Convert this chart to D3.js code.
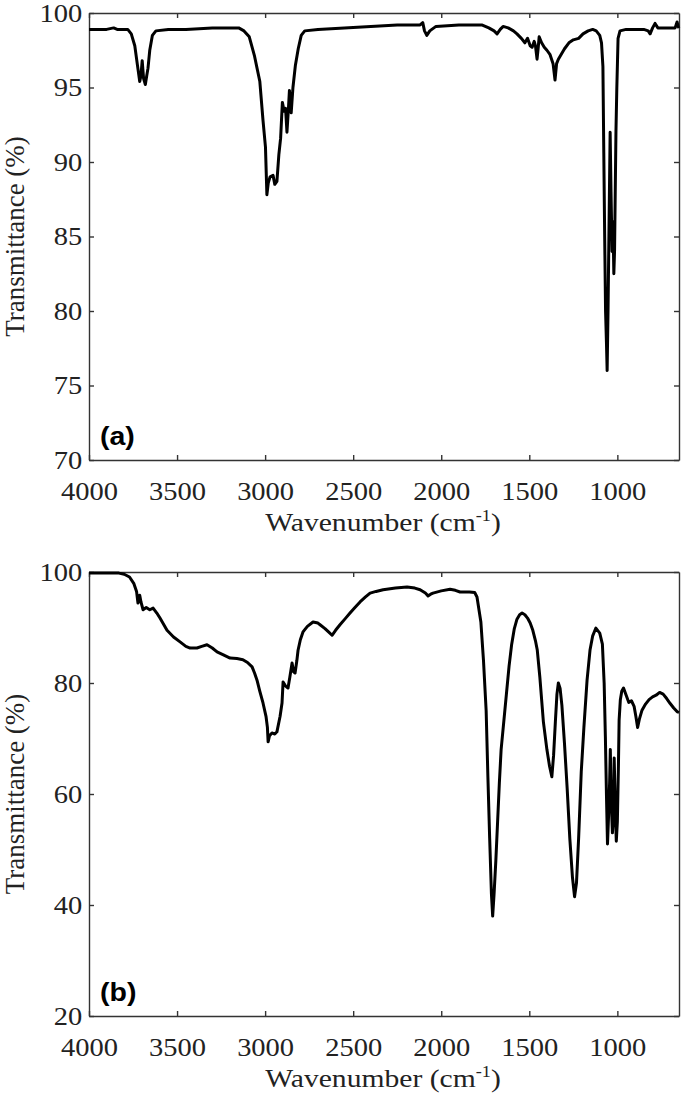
<!DOCTYPE html>
<html>
<head>
<meta charset="utf-8">
<script src="https://cdn.jsdelivr.net/npm/d3@7"></script>
<style>
  body { margin: 0; background: #fff; }
  svg { display: block; }
</style>
</head>
<body>
<svg id="chart"></svg>
<script>
// FTIR spectra, two stacked panels

var width = 685;
var height = 1098;

// panel (a)
var wnA = [4000, 3900, 3860, 3840, 3780, 3760, 3740, 3725, 3712, 3705, 3698, 3690, 3680, 3672, 3665, 3655, 3640, 3620, 3550, 3450,
  3300, 3150, 3120, 3090, 3060, 3030, 3012, 2998, 2990, 2982, 2972, 2955, 2945, 2933, 2922, 2912, 2902, 2892, 2884, 2876,
  2868, 2862, 2852, 2842, 2828, 2812, 2795, 2775, 2700, 2550, 2400, 2250, 2120, 2105, 2095, 2082, 2065, 2030, 1900, 1770,
  1730, 1700, 1683, 1665, 1649, 1620, 1590, 1570, 1545, 1525, 1510, 1495, 1484, 1472, 1465, 1456, 1450, 1444, 1430, 1415,
  1400, 1382, 1365, 1354, 1345, 1335, 1320, 1300, 1275, 1250, 1220, 1195, 1166, 1140, 1120, 1100, 1090, 1082, 1077, 1072,
  1067, 1062, 1058, 1053, 1047, 1041, 1036, 1030, 1025, 1020, 1016, 1012, 1008, 1003, 996, 985, 950, 900, 850, 825,
  814, 800, 786, 770, 700, 672, 661, 655, 650];
var tA = [98.9, 98.9, 99.0, 98.9, 98.9, 98.6, 97.8, 96.5, 95.4, 95.8, 96.8, 95.6, 95.2, 95.8, 96.3, 97.5, 98.5, 98.8, 98.9, 98.9,
  99.0, 99.0, 98.8, 98.4, 97.1, 95.4, 92.8, 91.0, 87.8, 88.6, 89.0, 89.1, 88.5, 88.7, 90.5, 91.6, 94.0, 93.4, 93.6, 92.0,
  93.5, 94.8, 93.3, 95.0, 96.5, 97.6, 98.5, 98.8, 98.9, 99.0, 99.1, 99.2, 99.2, 99.35, 98.8, 98.5, 98.8, 99.1, 99.2, 99.2,
  99.0, 98.8, 98.6, 98.9, 99.1, 99.0, 98.8, 98.6, 98.3, 98.0, 98.3, 97.8, 97.7, 98.1, 97.8, 96.9, 97.6, 98.4, 98.0, 97.7,
  97.5, 97.2, 96.6, 95.5, 96.6, 96.9, 97.2, 97.6, 98.0, 98.2, 98.3, 98.6, 98.8, 98.9, 98.8, 98.5, 98.0, 96.4, 90.6, 85,
  80, 77.9, 76.0, 80, 86, 92.0, 88, 84, 86, 82.5, 84, 88, 92, 95, 98.3, 98.8, 98.9, 98.9, 98.9, 98.8,
  98.6, 99.0, 99.3, 99.0, 99.0, 99.0, 99.4, 99.1, 99.0];

// panel (b)
var wnB = [4000, 3900, 3830, 3800, 3770, 3745, 3730, 3722, 3712, 3705, 3693, 3675, 3655, 3636, 3615, 3597, 3575, 3557, 3520, 3483,
  3450, 3426, 3387, 3360, 3330, 3300, 3273, 3240, 3199, 3160, 3126, 3100, 3074, 3060, 3046, 3030, 3012, 2995, 2987, 2983,
  2975, 2961, 2945, 2933, 2915, 2904, 2898, 2885, 2870, 2860, 2847, 2838, 2830, 2820, 2813, 2800, 2785, 2760, 2728, 2700,
  2688, 2660, 2640, 2620, 2600, 2575, 2545, 2518, 2490, 2461, 2430, 2404, 2370, 2330, 2260, 2194, 2150, 2120, 2090, 2075,
  2060, 2047, 2000, 1950, 1920, 1893, 1840, 1810, 1797, 1775, 1760, 1745, 1735, 1725, 1715, 1708, 1700, 1690, 1680, 1670,
  1660, 1645, 1630, 1615, 1600, 1585, 1570, 1555, 1541, 1525, 1510, 1495, 1480, 1465, 1455, 1440, 1420, 1400, 1385, 1372,
  1362, 1352, 1343, 1335, 1325, 1315, 1300, 1285, 1270, 1255, 1243, 1232, 1220, 1205, 1190, 1172, 1155, 1140, 1122, 1100,
  1085, 1075, 1068, 1062, 1056, 1050, 1044, 1040, 1034, 1028, 1022, 1018, 1012, 1006, 1000, 994, 990, 983, 975, 965,
  950, 935, 920, 905, 895, 885, 875, 860, 840, 820, 800, 780, 760, 740, 720, 700, 680, 660, 650];
var tB = [99.8, 99.8, 99.8, 99.6, 99.1, 97.9, 96.5, 94.4, 95.8, 94.6, 93.2, 93.6, 93.2, 93.5, 92.6, 91.7, 90.5, 89.5, 88.3, 87.4,
  86.6, 86.3, 86.3, 86.6, 86.9, 86.3, 85.6, 85.1, 84.5, 84.4, 84.2, 83.7, 82.9, 81.8, 80.5, 78.5, 76.4, 74.0, 72.0, 69.4,
  70.5, 71.0, 70.8, 71.2, 74.0, 76.4, 80.2, 79.5, 79.1, 81.0, 83.6, 82.0, 81.8, 84.0, 85.9, 87.8, 89.2, 90.2, 91.0, 90.8,
  90.5, 89.8, 89.2, 88.6, 89.5, 90.5, 91.6, 92.6, 93.6, 94.6, 95.5, 96.2, 96.5, 96.8, 97.1, 97.3, 97.1, 96.8, 96.2, 95.7,
  96.0, 96.2, 96.6, 96.9, 96.7, 96.4, 96.4, 96.3, 95.5, 91.0, 84, 75, 63, 52, 42, 38.0, 42, 48, 55, 62,
  68, 73, 78, 83, 87, 89.8, 91.5, 92.3, 92.6, 92.3, 91.7, 90.8, 89.5, 87.6, 86, 81, 73, 68, 65, 63.1,
  67, 73, 78, 80, 79, 76, 69, 61, 52, 45, 41.5, 44, 52, 64, 72, 80.5, 86, 88.5, 89.9, 89,
  87, 80, 70.3, 60, 51, 56, 62, 68, 58, 53, 56, 66.5, 58, 51.5, 55, 65, 73.3, 77, 78.5, 79.1,
  77.8, 76.5, 76.8, 75.8, 74, 72.0, 73.5, 75.1, 76.2, 77.0, 77.5, 77.8, 78.3, 78.0, 77.2, 76.3, 75.5, 74.8, 74.7];

var xTicks = [4000, 3500, 3000, 2500, 2000, 1500, 1000];
var yTicksA = [70, 75, 80, 85, 90, 95, 100];
var yTicksB = [20, 40, 60, 80, 100];

var serif = "'Liberation Serif', 'Times New Roman', 'DejaVu Serif', serif";
var sans = "'Liberation Sans', Arial, sans-serif";
var stretch = 'scale(1.14,1)'; // the source figure's lettering is a bit wide

var svg = d3.select('#chart')
  .attr('width', width)
  .attr('height', height);

var left = 89, right = 679;

var xScale = d3.scaleLinear()
  .domain([4000, 650])
  .range([left, right]);

function drawPanel(wn, t, yDomain, yTicks, top, bottom, tag) {
  var yScale = d3.scaleLinear()
    .domain(yDomain)
    .range([bottom, top]);

  var g = svg.append('g');

  // frame + inward ticks on all four sides
  g.append('g')
    .attr('transform', `translate(0,${bottom})`)
    .call(d3.axisBottom(xScale).tickValues(xTicks).tickFormat(d3.format('d'))
      .tickSize(-5).tickSizeOuter(0).tickPadding(22));
  g.append('g')
    .attr('transform', `translate(0,${top})`)
    .call(d3.axisTop(xScale).tickValues(xTicks).tickSize(-5).tickSizeOuter(0).tickFormat(''));
  g.append('g')
    .attr('transform', `translate(${left},0)`)
    .call(d3.axisLeft(yScale).tickValues(yTicks).tickFormat(d3.format('d'))
      .tickSize(-5).tickSizeOuter(0).tickPadding(6));
  g.append('g')
    .attr('transform', `translate(${right},0)`)
    .call(d3.axisRight(yScale).tickValues(yTicks).tickSize(-5).tickSizeOuter(0).tickFormat(''));

  g.selectAll('.domain, .tick line')
    .attr('stroke', '#333')
    .attr('stroke-width', 1.4);

  g.selectAll('.tick text')
    .attr('fill', '#222')
    .attr('transform', stretch)
    .style('font-family', serif)
    .style('font-size', '25px');

  // spectrum
  var pts = wn.map((w, i) => [w, t[i]]);
  var line = d3.line()
    .x(d => xScale(d[0]))
    .y(d => yScale(d[1]));

  g.append('path')
    .datum(pts)
    .attr('d', line)
    .attr('fill', 'none')
    .attr('stroke', '#000')
    .attr('stroke-width', 3)
    .attr('stroke-linejoin', 'round');

  // panel tag
  g.append('g')
    .attr('transform', `translate(${left + 11},${bottom - 15}) ${stretch}`)
    .append('text')
    .style('font-family', sans)
    .style('font-weight', 'bold')
    .style('font-size', '25px')
    .text(tag);

  // axis titles
  var xt2 = g.append('g')
    .attr('transform', `translate(${(left + right) / 2 - 1},${bottom + 71}) ${stretch}`)
    .append('text')
    .attr('text-anchor', 'middle')
    .attr('fill', '#222')
    .style('font-family', serif)
    .style('font-size', '26px');
  xt2.append('tspan').text('Wavenumber (cm');
  xt2.append('tspan').attr('dy', -10).style('font-size', '16px').text('-1');
  xt2.append('tspan').attr('dy', 10).text(')');

  g.append('text')
    .attr('transform', `translate(24,${(top + bottom) / 2}) rotate(-90)`)
    .attr('text-anchor', 'middle')
    .attr('fill', '#222')
    .style('font-family', serif)
    .style('font-size', '27px')
    .text('Transmittance (%)');
}

drawPanel(wnA, tA, [70, 100], yTicksA, 13, 460, '(a)');
drawPanel(wnB, tB, [20, 100], yTicksB, 572, 1016, '(b)');
</script>
</body>
</html>
